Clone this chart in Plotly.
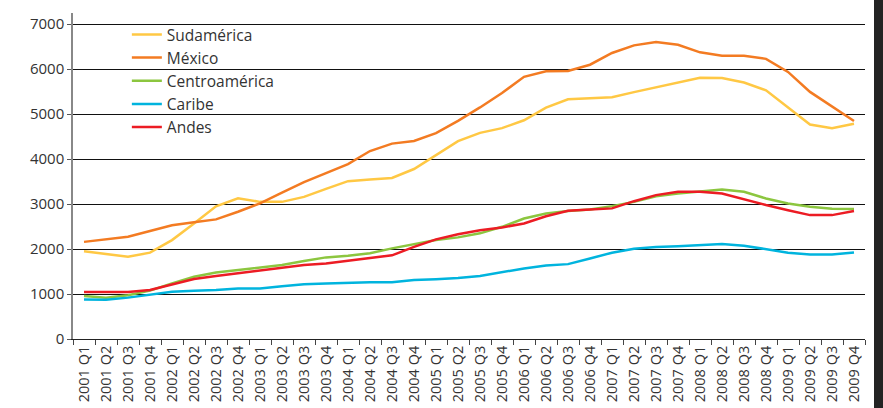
import plotly.graph_objects as go

quarters = [f"{y} Q{q}" for y in range(2001, 2010) for q in range(1, 5)]

sudamerica = [1950, 1890, 1830, 1920, 2200, 2570, 2950, 3130, 3050, 3050, 3160, 3340,
              3510, 3545, 3580, 3780, 4090, 4400, 4585, 4690, 4865, 5145, 5330, 5355,
              5375, 5490, 5600, 5705, 5810, 5805, 5705, 5530, 5150, 4770, 4690, 4785]
mexico = [2160, 2220, 2275, 2400, 2530, 2595, 2660, 2830, 3015, 3255, 3490, 3690,
          3890, 4180, 4345, 4405, 4580, 4850, 5150, 5470, 5830, 5955, 5960, 6100,
          6360, 6530, 6605, 6545, 6375, 6300, 6300, 6230, 5940, 5495, 5175, 4850]
centroamerica = [955, 920, 975, 1075, 1235, 1385, 1480, 1535, 1595, 1645, 1735, 1815,
                 1850, 1905, 2015, 2110, 2200, 2260, 2350, 2495, 2680, 2790, 2845, 2880,
                 2955, 3050, 3175, 3235, 3275, 3325, 3275, 3125, 3015, 2940, 2895, 2890]
caribe = [880, 875, 920, 980, 1050, 1075, 1090, 1125, 1125, 1175, 1220, 1235,
          1255, 1260, 1260, 1310, 1330, 1355, 1400, 1490, 1570, 1635, 1665, 1790,
          1920, 2005, 2045, 2060, 2090, 2110, 2075, 1995, 1920, 1880, 1880, 1925]
andes = [1045, 1045, 1045, 1090, 1220, 1335, 1400, 1460, 1510, 1585, 1645, 1680,
         1740, 1795, 1860, 2050, 2215, 2330, 2420, 2480, 2570, 2730, 2850, 2880,
         2905, 3065, 3200, 3275, 3275, 3235, 3105, 2980, 2865, 2755, 2755, 2845]

series = [
    ("Sudamérica", sudamerica, "#FFC844"),
    ("México", mexico, "#F37B22"),
    ("Centroamérica", centroamerica, "#8CC63F"),
    ("Caribe", caribe, "#00B4DE"),
    ("Andes", andes, "#EC1C24"),
]

yticks = [0, 1000, 2000, 3000, 4000, 5000, 6000, 7000]

fig = go.Figure()
for name, vals, col in series:
    fig.add_trace(go.Scatter(x=quarters, y=vals, name=name, mode="lines",
                             line=dict(color=col, width=2.5)))

font_family = "Open Sans, Noto Sans, sans-serif"
fig.update_layout(
    width=883, height=408,
    margin=dict(l=73, r=18, t=13, b=69),
    paper_bgcolor="white", plot_bgcolor="white",
    font=dict(family=font_family, color="#333333"),
    showlegend=True,
    legend=dict(x=0.068, y=0.985, xanchor="left", yanchor="top",
                bgcolor="rgba(0,0,0,0)", font=dict(size=15.5, color="#333333"),
                itemwidth=30, tracegroupgap=0),
    xaxis=dict(type="category", tickangle=-90, tickfont=dict(size=14.5, color="#333333"),
               showgrid=False, ticks="outside", ticklen=5, tickcolor="#444444",
               tickson="boundaries", showline=True, linecolor="#222222", linewidth=1,
               range=[-0.5, len(quarters) - 0.5], fixedrange=True, automargin=False),
    yaxis=dict(range=[0, 7250], tickvals=yticks, ticktext=[str(v) for v in yticks],
               tickfont=dict(size=15, color="#333333"), showgrid=True,
               gridcolor="#111111", gridwidth=1, zeroline=False,
               showline=True, linecolor="#888888", linewidth=1.5,
               ticks="outside", ticklen=4, tickcolor="#555555", automargin=False),
)

fig.add_shape(type="rect", xref="paper", yref="paper",
              x0=(874 - 73) / 792, x1=(884 - 73) / 792, y0=-69 / 326, y1=(326 + 14) / 326,
              fillcolor="#232323", line=dict(width=0), layer="above")

fig.write_html("out.html", config={"displayModeBar": False},
               post_script="document.body.style.margin='0';document.body.style.overflow='hidden';")
